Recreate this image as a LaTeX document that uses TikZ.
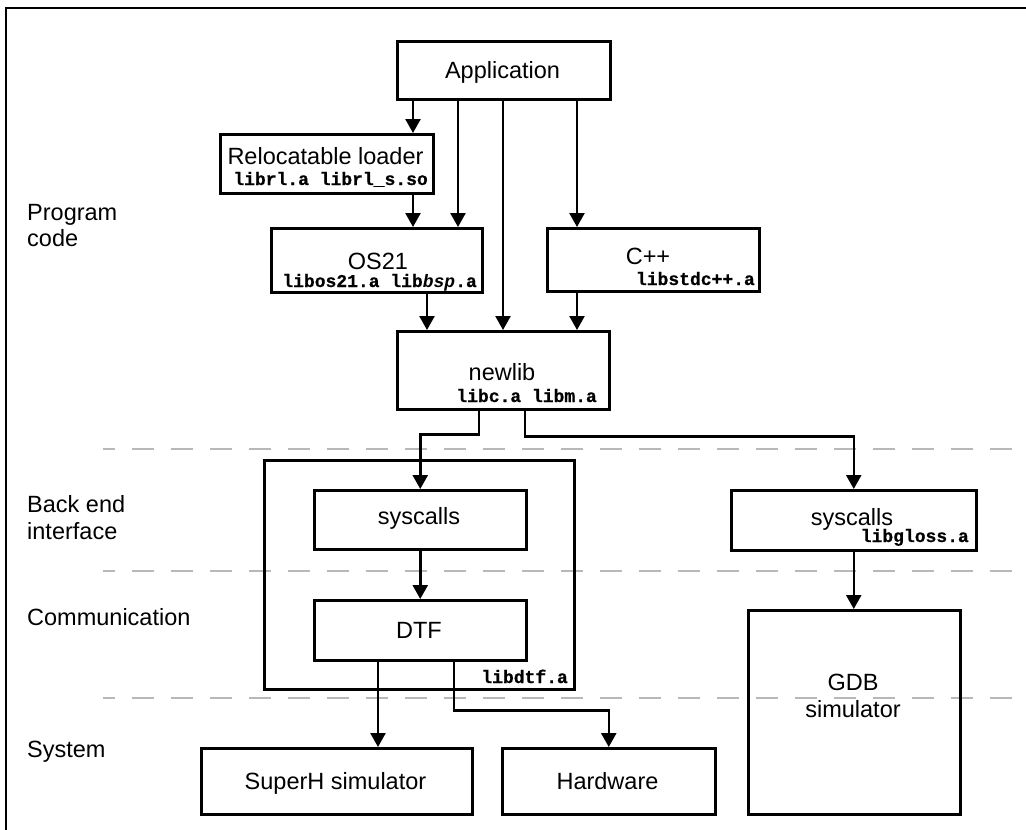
\documentclass[tikz,border=0pt]{standalone}
\usepackage{fontspec}
\setmainfont{Liberation Sans}
\setmonofont[BoldFeatures={FakeBold=0.6}]{Liberation Mono}
\usetikzlibrary{arrows.meta}
\begin{document}
\begin{tikzpicture}[x=1pt,y=-1pt,
  box/.style={draw, line width=2.5pt, inner sep=0pt, anchor=north west},
  arr/.style={line width=2.5pt, -{Triangle[length=14pt,width=15pt]}},
  ln/.style={line width=2.6pt},
  ttl/.style={font=\fontsize{23.5}{26}\selectfont, inner sep=0pt, anchor=base},
  lib/.style={font=\fontsize{18}{20}\selectfont\ttfamily\bfseries, inner sep=0pt, anchor=base east},
  lay/.style={font=\fontsize{23.5}{26}\selectfont, inner sep=0pt, anchor=base west},
  sep/.style={draw=black!28, line width=2pt, dash pattern=on 22pt off 17pt, dash phase=10pt}]
\useasboundingbox[fill=white] (0,0) rectangle (1026,830);

% layer separators
\draw[sep] (103,449) -- (1026,449);
\draw[sep] (103,571) -- (1026,571);
\draw[sep] (103,698) -- (1026,698);

% frame
\draw[ln] (6,900) -- (6,8) -- (1100,8);

% layer labels
\node[lay] (lp1) at (27,220) {Program};
\node[lay] (lp2) at (27,246) {code};
\node[lay] (lb1) at (27,512) {Back end};
\node[lay] (lb2) at (27,539) {interface};
\node[lay] (lc) at (27,625) {Communication};
\node[lay] (ls) at (27,757) {System};

% boxes
\node[box, minimum width=213pt, minimum height=58pt] (app) at (396,40) {};
\node[box, minimum width=213pt, minimum height=59pt] (rel) at (219,133) {};
\node[box, minimum width=211pt, minimum height=64pt] (os) at (270,227) {};
\node[box, minimum width=212pt, minimum height=63pt] (cpp) at (546,227) {};
\node[box, minimum width=212pt, minimum height=78pt] (nl) at (396,330) {};
\node[box, minimum width=310pt, minimum height=229pt] (cont) at (263,459) {};
\node[box, minimum width=212pt, minimum height=59pt] (sysa) at (313,489) {};
\node[box, minimum width=212pt, minimum height=60pt] (dtf) at (313,599) {};
\node[box, minimum width=245pt, minimum height=60pt] (sysb) at (730,489) {};
\node[box, minimum width=212pt, minimum height=204pt] (gdb) at (747,609) {};
\node[box, minimum width=271pt, minimum height=66pt] (sh) at (200,747) {};
\node[box, minimum width=213pt, minimum height=66pt] (hw) at (501,747) {};

% texts
\node[ttl] (appT) at (502.5,78) {Application};
\node[ttl] (relT) at (325.5,164) {Relocatable loader};
\node[lib] (relL) at (428,185) {librl.a librl\_s.so};
\node[ttl] (osT) at (378,269) {OS21};
\node[lib] (osL) at (477,287) {libos21.a lib{\itshape bsp}.a};
\node[ttl] (cppT) at (648,264) {C++};
\node[lib] (cppL) at (755,285) {libstdc++.a};
\node[ttl] (nlT) at (502,380) {newlib};
\node[lib] (nlL) at (597,402) {libc.a libm.a};
\node[ttl] (sysaT) at (419,524) {syscalls};
\node[ttl] (dtfT) at (419,638) {DTF};
\node[lib] (contL) at (568,683) {libdtf.a};
\node[ttl] (sysbT) at (852,525) {syscalls};
\node[lib] (sysbL) at (969,542) {libgloss.a};
\node[ttl] (gdbT1) at (853,690) {GDB};
\node[ttl] (gdbT2) at (853,717) {simulator};
\node[ttl] (shT) at (335.5,789) {SuperH simulator};
\node[ttl] (hwT) at (607.5,789) {Hardware};

% connectors
\draw[arr] ([xshift=17pt]app.south west) coordinate (a1) -- (a1 |- rel.north);
\draw[arr] ([xshift=62pt]app.south west) coordinate (a2) -- (a2 |- os.north);
\draw[arr] ([xshift=107pt]app.south west) coordinate (a3) -- (a3 |- nl.north);
\draw[arr] ([xshift=181pt]app.south west) coordinate (a4) -- (a4 |- cpp.north);
\draw[arr] ([xshift=194pt]rel.south west) coordinate (r1) -- (r1 |- os.north);
\draw[arr] ([xshift=157pt]os.south west) coordinate (o1) -- (o1 |- nl.north);
\draw[arr] ([xshift=31pt]cpp.south west) coordinate (p1) -- (p1 |- nl.north);
\draw[arr] ([xshift=83pt]nl.south west) -- ++(0,24) -| (sysa.north);
\draw[arr] ([xshift=129pt]nl.south west) -- ++(0,26) -| (sysb.north);
\draw[arr] (sysa.south) -- (dtf.north);
\draw[arr] (sysb.south) -- (sysb.south |- gdb.north);
\draw[arr] ([xshift=65pt]dtf.south west) coordinate (d1) -- (d1 |- sh.north);
\draw[arr] ([xshift=141pt]dtf.south west) -- ++(0,49) -| (hw.north);
\end{tikzpicture}
\end{document}
